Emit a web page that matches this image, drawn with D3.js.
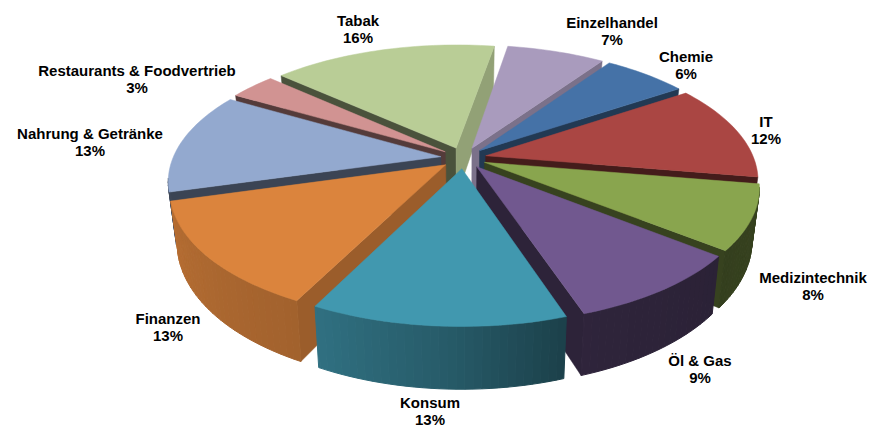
<!DOCTYPE html>
<meta charset="utf-8">
<style>

body { margin: 0; background: #fff; }

.label {
  font-family: "Liberation Sans", Arial, sans-serif;
  font-weight: bold;
  font-size: 15px;
  fill: #000;
  text-anchor: middle;
}

</style>
<body>

<script src="https://d3js.org/d3.v7.min.js"></script>
<script>

var categories = ["Einzelhandel", "Chemie", "IT", "Medizintechnik", "Öl & Gas",
                  "Konsum", "Finanzen", "Nahrung & Getränke", "Restaurants & Foodvertrieb", "Tabak"];
var shares = [7, 6, 12, 8, 9.2, 12.6, 13.2, 12.7, 3.3, 16];
var colors = ["#a99bbd", "#4572a7", "#aa4643", "#89a54e", "#71588f",
              "#4198af", "#db843d", "#93a9cf", "#d19392", "#b9cd96"];
// where each text block sits, same order as categories
var labelX = [612, 686, 766, 813, 700, 430, 168, 90, 137, 358];
var labelY = [28, 62, 127, 283, 366, 408, 324, 139, 76, 26];

var width = 870,
    height = 427;

// projection of the tilted pie
var cx = 463.5,
    cy = 158,
    radius = 268,   // x radius
    tilt = 125,     // y radius
    persp = 0.18,
    thick = 50.5,
    explode = 0.085,
    startDeg = 9.5;

var rad = Math.PI / 180;
var percent = d3.format(".0f");

function project(ux, uy, down) {
  var w = 1 / (1 - persp * uy);
  var shrink = down ? 0.975 : 1;
  return [cx + radius * ux * w * shrink,
          cy + tilt * uy * w + (down ? thick * w : 0)];
}

// ground point on a slice: angle clockwise from top, r 0..1
function ground(d, a, r) {
  var mid = (d.startAngle + d.endAngle) / 2;
  return [explode * Math.sin(mid) + r * Math.sin(a),
          -explode * Math.cos(mid) - r * Math.cos(a)];
}

// brightness of the outer wall by compass angle
var rimShade = d3.scaleLinear()
    .domain([0, 128, 160, 183, 207, 254, 256, 360])
    .range([0.5, 0.38, 0.41, 0.6, 0.74, 0.83, 0.42, 0.42]);

// brightness of the cut walls by direction of their normal
var cutShade = d3.scaleLinear()
    .domain([0, 99, 118, 125, 146, 165, 360])
    .range([0.8, 0.79, 0.7, 0.73, 0.5, 0.4, 0.4]);

function shaded(col, k) {
  var c = d3.rgb(col);
  return d3.rgb(c.r * k, c.g * k, c.b * k).formatHex();
}

var line = d3.line();

var pie = d3.pie()
    .sort(null)
    .startAngle(startDeg * rad)
    .endAngle(startDeg * rad + 2 * Math.PI);

var slices = pie(shares).map(function(d) {
  d.color = colors[d.index];
  return d;
});

var svg = d3.select("body").append("svg")
    .attr("width", width)
    .attr("height", height);

// back slices first
var order = slices.slice().sort(function(a, b) {
  return -Math.cos((a.startAngle + a.endAngle) / 2) + Math.cos((b.startAngle + b.endAngle) / 2);
});

order.forEach(function(d) {
  var g = svg.append("g").attr("class", "slice");
  var o = ground(d, 0, 0);

  // the cut walls, only those turned to the camera
  [[d.startAngle, -90], [d.endAngle, 90]].forEach(function(w) {
    var normal = (w[0] / rad + w[1] + 360) % 360;
    var nx = Math.sin(normal * rad),
        ny = -Math.cos(normal * rad);
    if (-o[0] * nx + (1 / persp - o[1]) * ny <= 0) return;
    var e = ground(d, w[0], 1);
    var col = shaded(d.color, cutShade(normal));
    g.append("path")
        .attr("d", line([project(o[0], o[1]), project(e[0], e[1]),
                         project(e[0], e[1], true), project(o[0], o[1], true)]) + "Z")
        .attr("fill", col)
        .attr("stroke", col)
        .attr("stroke-width", 0.5);
  });

  // outer wall in narrow strips so the shade can run along it
  var steps = d3.range(d.startAngle, d.endAngle, 1.5 * rad).concat([d.endAngle]);
  d3.pairs(steps).forEach(function(p) {
    if (Math.cos((p[0] + p[1]) / 2) >= -persp) return;
    var a = ground(d, p[0], 1),
        b = ground(d, p[1], 1);
    var col = shaded(d.color, rimShade(((p[0] + p[1]) / 2 / rad) % 360));
    g.append("path")
        .attr("d", line([project(a[0], a[1]), project(b[0], b[1]),
                         project(b[0], b[1], true), project(a[0], a[1], true)]) + "Z")
        .attr("fill", col)
        .attr("stroke", col)
        .attr("stroke-width", 1);
  });

  // top face
  var top = [project(o[0], o[1])].concat(steps.map(function(a) {
    var p = ground(d, a, 1);
    return project(p[0], p[1]);
  }));
  g.append("path")
      .attr("d", line(top) + "Z")
      .attr("fill", d.color)
      .attr("stroke", d.color)
      .attr("stroke-width", 0.5);
});

// labels
var label = svg.selectAll(".label")
    .data(categories)
  .enter().append("text")
    .attr("class", "label")
    .attr("x", function(d, i) { return labelX[i]; })
    .attr("y", function(d, i) { return labelY[i]; });

label.append("tspan")
    .attr("x", function(d, i) { return labelX[i]; })
    .text(function(d) { return d; });

label.append("tspan")
    .attr("x", function(d, i) { return labelX[i]; })
    .attr("dy", 17)
    .text(function(d, i) { return percent(shares[i]) + "%"; });

</script>
</body>
</html>
